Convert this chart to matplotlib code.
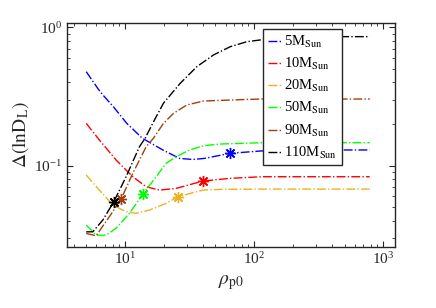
import matplotlib.pyplot as plt
from matplotlib.ticker import LogLocator, NullFormatter

plt.rcParams["font.family"] = ["Liberation Serif", "DejaVu Serif"]
plt.rcParams["mathtext.fontset"] = "stix"

# data (rho_p0, Delta(lnD_L))
rho_5 = [5.0, 6.4, 7.12, 8.11, 10.3, 13.6, 19.6, 26.4, 33.5, 41.2, 65.2, 114.7, 250.0, 784.0]
dl_5 = [0.478, 0.343, 0.306, 0.267, 0.2025, 0.158, 0.130, 0.113, 0.111, 0.113, 0.123, 0.128, 0.130, 0.130]

rho_10 = [5.0, 6.32, 8.52, 11.47, 14.55, 18.45, 24.85, 40.0, 65.2, 114.7, 784.0]
dl_10 = [0.2025, 0.1534, 0.110, 0.0833, 0.0705, 0.0667, 0.0686, 0.0775, 0.0811, 0.0833, 0.0833]

rho_20 = [5.0, 6.32, 8.03, 10.18, 12.17, 15.43, 20.79, 25.6, 40.0, 54.5, 114.7, 784.0]
dl_20 = [0.0857, 0.0667, 0.052, 0.0465, 0.0453, 0.0478, 0.0535, 0.0597, 0.0667, 0.0675, 0.0678, 0.0678]

rho_50 = [5.0, 5.96, 7.12, 8.52, 10.8, 13.72, 17.39, 20.79, 24.85, 31.5, 41.2, 54.5, 114.7, 784.0]
dl_50 = [0.0373, 0.0315, 0.0315, 0.0353, 0.0453, 0.0624, 0.0833, 0.1041, 0.1162, 0.1299, 0.1400, 0.1435, 0.1467, 0.1467]

rho_90 = [5.0, 5.96, 7.55, 9.31, 11.47, 14.55, 16.57, 19.81, 23.68, 30.08, 40.46, 65.2, 111.3, 784.0]
dl_90 = [0.0324, 0.0312, 0.0428, 0.0574, 0.0881, 0.1372, 0.158, 0.2025, 0.239, 0.275, 0.2935, 0.2985, 0.3035, 0.3035]

rho_110 = [5.0, 5.62, 6.72, 8.17, 10.18, 12.91, 14.29, 16.87, 19.81, 26.69, 35.96,
           48.36, 65.2, 87.8, 111.3, 170.0, 400.0, 784.0]
dl_110 = [0.0333, 0.0333, 0.0405, 0.0549, 0.0833, 0.1372, 0.158, 0.214, 0.283, 0.394, 0.520,
          0.632, 0.725, 0.788, 0.811, 0.835, 0.857, 0.857]

# starred points
star_rho = [65.2, 40.0, 25.6, 13.72, 9.31, 8.17]
star_dl = [0.123, 0.0775, 0.0597, 0.0624, 0.0574, 0.0549]

labels = ["5", "10", "20", "50", "90", "110"]
colors = ["#0000ff", "#ff0000", "#edb120", "#00ff00", "#a0400f", "#000000"]
series = [(rho_5, dl_5), (rho_10, dl_10), (rho_20, dl_20),
          (rho_50, dl_50), (rho_90, dl_90), (rho_110, dl_110)]

fig = plt.figure(figsize=(4.36, 3.08), dpi=100)
ax = fig.add_axes([66.7 / 436, 1 - 246.7 / 308, 328.3 / 436, 223.4 / 308])

for (x, y), lab, c in zip(series, labels, colors):
    ax.plot(x, y, linestyle="-.", color=c, linewidth=1.0,
            label=r"%sM$_{\mathrm{Sun}}$" % lab)

for xs, ys, c in zip(star_rho, star_dl, colors):
    ax.plot(xs, ys, marker=(8, 2, 0), color=c, markersize=8,
            markeredgewidth=1.0, linestyle="none")

ax.set_xscale("log")
ax.set_yscale("log")
ax.set_xlim(3.53, 1230)
ax.set_ylim(0.026, 1.07)

ax.xaxis.set_minor_locator(LogLocator(base=10, subs=range(2, 10)))
ax.yaxis.set_minor_locator(LogLocator(base=10, subs=range(2, 10)))
ax.xaxis.set_minor_formatter(NullFormatter())
ax.yaxis.set_minor_formatter(NullFormatter())
ax.tick_params(which="both", direction="in", top=True, right=True,
               colors="#262626", labelsize=11)
ax.tick_params(which="major", length=4)
ax.tick_params(which="minor", length=2)
for sp in ax.spines.values():
    sp.set_linewidth(1.0)
    sp.set_color("#262626")

ax.set_xlabel(r"$\rho_{\mathrm{p0}}$", fontsize=14, color="#262626")
ax.set_ylabel(r"$\Delta(\mathrm{lnD_L})$", fontsize=14, color="#262626",
              labelpad=2)

leg = ax.legend(loc="upper left", bbox_to_anchor=(0.599, 0.973),
                fontsize=10.5, handlelength=1.0, handletextpad=0.15,
                labelspacing=0.42, borderpad=0.3, borderaxespad=0,
                fancybox=False, framealpha=1)
leg.get_frame().set_edgecolor("#262626")
leg.get_frame().set_linewidth(1.0)

fig.savefig("out.png", dpi=100)
